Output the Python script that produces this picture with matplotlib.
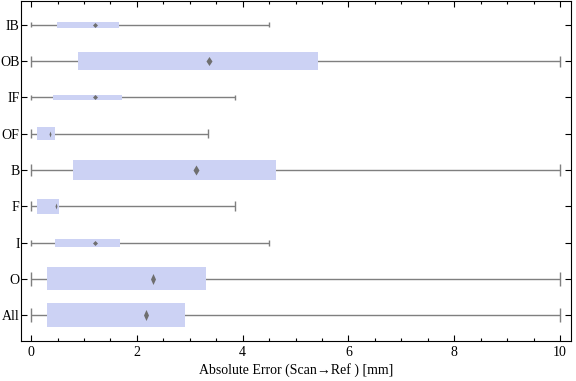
import matplotlib.pyplot as plt
from matplotlib.ticker import MultipleLocator

# groups, bottom to top
groups = ['All', 'O', 'I', 'F', 'B', 'OF', 'IF', 'OB', 'IB']
wmin = [0, 0, 0, 0, 0, 0, 0, 0, 0]
wmax = [10, 10, 4.5, 3.85, 10, 3.35, 3.85, 10, 4.5]
q1 = [0.30, 0.30, 0.45, 0.11, 0.79, 0.11, 0.42, 0.89, 0.49]
q3 = [2.91, 3.31, 1.68, 0.53, 4.63, 0.45, 1.72, 5.43, 1.66]
mid = [2.17, 2.31, 1.21, 0.47, 3.12, 0.36, 1.21, 3.37, 1.21]
# box thickness differs per group (relative to spacing)
thick = [0.66, 0.63, 0.22, 0.41, 0.55, 0.36, 0.14, 0.49, 0.16]
# marker size in px (height, width)
mk_h = [11, 11, 5, 6, 10, 6, 5, 9, 5]
mk_w = [5, 5, 5, 2, 6, 2, 5, 6, 5]

boxcol = '#ccd2f4'
grey = '#7f7f7f'

plt.rcParams['font.family'] = ['Liberation Serif', 'DejaVu Serif']
plt.rcParams['font.size'] = 10

fig = plt.figure(figsize=(5.76, 3.81), dpi=100)
ax = fig.add_axes([0.0365, 0.105, 0.955, 0.893])

for i, g in enumerate(groups):
    y = i + 1
    h = thick[i]
    ax.hlines(y, wmin[i], wmax[i], color=grey, lw=1, zorder=1)
    ax.vlines([wmin[i], wmax[i]], y - h / 4 - 0.03, y + h / 4 + 0.03, color=grey, lw=1, zorder=1)
    ax.barh(y, q3[i] - q1[i], left=q1[i], height=h, color=boxcol, zorder=2)
    r = mk_w[i] / mk_h[i]
    m = [(0, 1), (r, 0), (0, -1), (-r, 0), (0, 1)]
    ax.plot(mid[i], y, marker=m, color='#6f6f6f', ms=max(mk_h[i], mk_w[i]) * 0.72, mew=0, zorder=3)

ax.set_yticks(range(1, len(groups) + 1))
ax.set_yticklabels(groups)
ax.set_ylim(0.29, 9.66)
ax.set_xlim(-0.19, 10.21)
ax.xaxis.set_major_locator(MultipleLocator(2))
ax.xaxis.set_minor_locator(MultipleLocator(0.5))
ax.tick_params(direction='in', top=True, right=True, which='both', length=4, width=0.8)
ax.tick_params(which='minor', length=2.5)
ax.tick_params(axis='y', pad=1)
ax.set_xlabel('Absolute Error (Scan→Ref ) [mm]', labelpad=3)

fig.savefig('out.png', dpi=100)
